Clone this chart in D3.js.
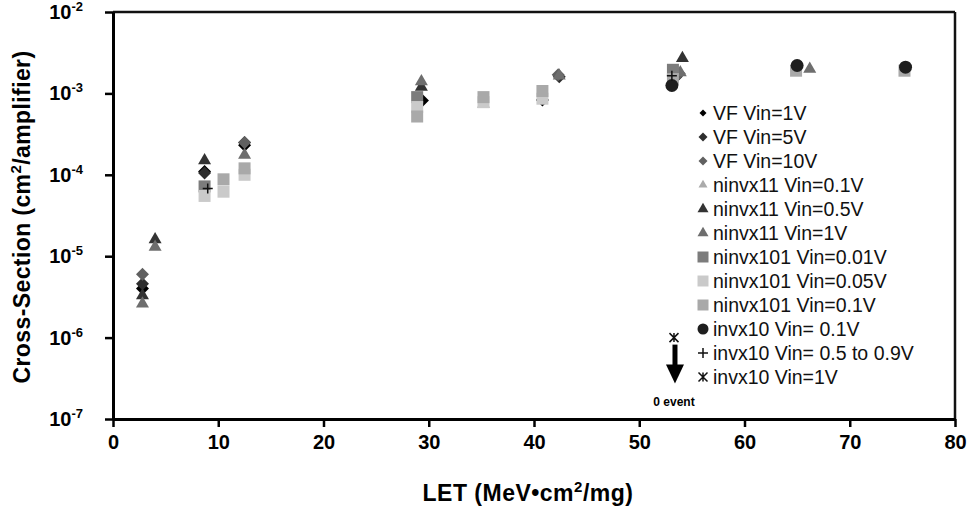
<!DOCTYPE html>
<html>
<head>
<meta charset="utf-8">
<script src="https://cdn.jsdelivr.net/npm/d3@7"></script>
<style>
  body { margin: 0; background: #fff; }
  svg { font-family: Arial, "Liberation Sans", sans-serif; }
</style>
</head>
<body>
<svg id="chart" width="970" height="510"></svg>
<script>
// data: [LET, cross-section]
const vf1V = [[2.8, 4.0e-6], [8.7, 1.1e-4], [12.5, 2.3e-4], [29.4, 8.2e-4], [40.8, 8.3e-4], [53.5, 1.6e-3]];
const vf5V = [[2.8, 4.6e-6], [8.7, 1.05e-4], [12.5, 2.5e-4], [42.4, 1.6e-3]];
const vf10V = [[2.8, 6.0e-6], [12.5, 2.5e-4], [42.3, 1.7e-3], [53.8, 1.75e-3]];
const ninvx11_01V = [[35.2, 7.4e-4]];
const ninvx11_05V = [[2.8, 3.3e-6], [4.0, 1.6e-5], [8.7, 1.5e-4], [29.3, 1.2e-3], [54.1, 2.7e-3]];
const ninvx11_1V = [[2.8, 2.6e-6], [4.0, 1.3e-5], [12.5, 1.75e-4], [29.3, 1.4e-3], [42.4, 1.65e-3], [53.9, 1.8e-3], [66.2, 2.0e-3]];
const ninvx101_001V = [[8.7, 7.2e-5], [28.9, 9.0e-4], [53.2, 1.95e-3]];
const ninvx101_005V = [[8.7, 5.5e-5], [10.5, 6.2e-5], [12.5, 1.0e-4], [28.9, 6.8e-4], [35.2, 7.8e-4], [40.8, 8.6e-4]];
const ninvx101_01V = [[10.5, 8.8e-5], [12.5, 1.2e-4], [28.9, 5.2e-4], [35.2, 9.0e-4], [40.8, 1.07e-3], [53.2, 1.5e-3], [64.9, 1.9e-3], [75.2, 1.9e-3]];
const invx10_01V = [[53.1, 1.25e-3], [65.0, 2.2e-3], [75.3, 2.1e-3]];
const invx10_05to09V = [[9.0, 6.8e-5], [53.1, 1.65e-3]];
const invx10_1V = [[53.3, 1.0e-6]];

const legendLabels = ["VF Vin=1V", "VF Vin=5V", "VF Vin=10V", "ninvx11 Vin=0.1V", "ninvx11 Vin=0.5V",
  "ninvx11 Vin=1V", "ninvx101 Vin=0.01V", "ninvx101 Vin=0.05V", "ninvx101 Vin=0.1V",
  "invx10 Vin= 0.1V", "invx10 Vin= 0.5 to 0.9V", "invx10 Vin=1V"];
const xTicks = [0, 10, 20, 30, 40, 50, 60, 70, 80];
const yExponents = [-7, -6, -5, -4, -3, -2];
const zeroEventLabel = "0 event";

// series table (legend order) + marker styles
const series = [
  { pts: vf1V, shape: "diamond", color: "#000000", leg: 7 },
  { pts: vf5V, shape: "diamond", color: "#2e2e2e", leg: 9 },
  { pts: vf10V, shape: "diamond", color: "#606060", leg: 9 },
  { pts: ninvx11_01V, shape: "triangle", color: "#ababab", leg: 9 },
  { pts: ninvx11_05V, shape: "triangle", color: "#333333", leg: 11 },
  { pts: ninvx11_1V, shape: "triangle", color: "#6e6e6e", leg: 11 },
  { pts: ninvx101_001V, shape: "square", color: "#7c7c7c", leg: 11 },
  { pts: ninvx101_005V, shape: "square", color: "#cacaca", leg: 11 },
  { pts: ninvx101_01V, shape: "square", color: "#a9a9a9", leg: 11 },
  { pts: invx10_01V, shape: "circle", color: "#1e1e1e", leg: 11 },
  { pts: invx10_05to09V, shape: "plus", color: "#111111", leg: 10 },
  { pts: invx10_1V, shape: "star", color: "#111111", leg: 9 }
];

const svg = d3.select("#chart");
const plotLeft = 113, plotRight = 955, plotTop = 12, plotBottom = 419;

const x = d3.scaleLinear().domain([0, 80]).range([plotLeft, plotRight]);
const y = d3.scaleLog().domain([1e-7, 1e-2]).range([plotBottom, plotTop]);

// marker path for a given shape and pixel size
function markerPath(shape, s) {
  const h = s / 2;
  switch (shape) {
    case "diamond": return d3.symbol(d3.symbolSquare, s * s / 2)();
    case "triangle": return d3.symbol(d3.symbolTriangle, 0.433 * s * s)();
    case "square": return d3.symbol(d3.symbolSquare, s * s)();
    case "circle": return d3.symbol(d3.symbolCircle, Math.PI * s * s / 4)();
    case "plus": return `M${-h},0H${h}M0,${-h}V${h}`;
    case "star": return `M${-h},${-h}L${h},${h}M${-h},${h}L${h},${-h}M0,${-h}V${h}`;
  }
}
const isStroke = shape => shape === "plus" || shape === "star";
const plotSize = { diamond: 13, triangle: 13, square: 12, circle: 13, plus: 10, star: 9 };

// series are drawn in legend order (later ones on top)
const marks = svg.append("g");
series.forEach(s => {
  marks.append("g").selectAll("path")
    .data(s.pts)
    .join("path")
    .attr("transform", d => `translate(${x(d[0])},${y(d[1])})` + (s.shape === "diamond" ? " rotate(45)" : ""))
    .attr("d", markerPath(s.shape, plotSize[s.shape]))
    .attr("fill", isStroke(s.shape) ? "none" : s.color)
    .attr("stroke", isStroke(s.shape) ? s.color : "none")
    .attr("stroke-width", 1.5);
});

// zero-event arrow below the star
const ax = x(invx10_1V[0][0]) + 1, ay = y(invx10_1V[0][1]);
svg.append("line").attr("x1", ax).attr("x2", ax).attr("y1", ay + 7).attr("y2", ay + 30)
  .attr("stroke", "#000").attr("stroke-width", 5);
svg.append("path").attr("d", `M${ax - 9},${ay + 27}L${ax + 9},${ay + 27}L${ax},${ay + 46}Z`).attr("fill", "#000");
svg.append("text").attr("x", ax - 1).attr("y", ay + 68).attr("text-anchor", "middle")
  .attr("font-size", 12).attr("font-weight", "bold").text(zeroEventLabel);

// frame
svg.append("line").attr("x1", plotLeft).attr("x2", plotRight).attr("y1", plotTop).attr("y2", plotTop)
  .attr("stroke", "#111").attr("stroke-width", 2.5);
svg.append("line").attr("x1", plotRight).attr("x2", plotRight).attr("y1", plotTop).attr("y2", plotBottom)
  .attr("stroke", "#111").attr("stroke-width", 2.5);

// axes
const xAxis = svg.append("g").attr("transform", `translate(0,${plotBottom})`)
  .call(d3.axisBottom(x).tickValues(xTicks).tickSize(8).tickSizeOuter(0).tickPadding(8));
xAxis.selectAll("text").attr("font-size", 20).attr("font-weight", "bold").attr("fill", "#000")
  .attr("font-family", "Arial, 'Liberation Sans', sans-serif");

const yAxis = svg.append("g").attr("transform", `translate(${plotLeft},0)`)
  .call(d3.axisLeft(y).tickValues(yExponents.map(e => Math.pow(10, e))).tickSize(8).tickSizeOuter(0).tickFormat(""));

[xAxis, yAxis].forEach(g => {
  g.select(".domain").attr("stroke", "#000").attr("stroke-width", 3);
  g.selectAll(".tick line").attr("stroke", "#000").attr("stroke-width", 2.5);
});

// y tick labels with superscript exponents
yExponents.forEach(e => {
  const t = svg.append("text").attr("x", 83).attr("y", y(Math.pow(10, e)) + 7)
    .attr("text-anchor", "end").attr("font-size", 20).attr("font-weight", "bold");
  t.append("tspan").text("10");
  t.append("tspan").attr("dy", -8).attr("font-size", 13).text(String(e));
});

// axis titles
const xt = svg.append("text").attr("x", 528).attr("y", 501).attr("text-anchor", "middle")
  .attr("font-size", 23).attr("font-weight", "bold").attr("letter-spacing", 0.5);
xt.append("tspan").text("LET (MeV\u2022cm");
xt.append("tspan").attr("dy", -9).attr("font-size", 15).text("2");
xt.append("tspan").attr("dy", 9).text("/mg)");

const yt = svg.append("text").attr("transform", "translate(30,217) rotate(-90)").attr("text-anchor", "middle")
  .attr("font-size", 23).attr("font-weight", "bold").attr("letter-spacing", 0.4);
yt.append("tspan").text("Cross-Section (cm");
yt.append("tspan").attr("dy", -9).attr("font-size", 15).text("2");
yt.append("tspan").attr("dy", 9).text("/amplifier)");

// legend
const legend = svg.append("g");
series.forEach((s, i) => {
  const ly = 113 + i * 24;
  legend.append("path")
    .attr("transform", `translate(703,${ly})` + (s.shape === "diamond" ? " rotate(45)" : ""))
    .attr("d", markerPath(s.shape, s.leg))
    .attr("fill", isStroke(s.shape) ? "none" : s.color)
    .attr("stroke", isStroke(s.shape) ? s.color : "none")
    .attr("stroke-width", 1.5);
  legend.append("text").attr("x", 713).attr("y", ly + 7).attr("font-size", 19.5).attr("fill", "#111")
    .text(legendLabels[i]);
});
</script>
</body>
</html>
